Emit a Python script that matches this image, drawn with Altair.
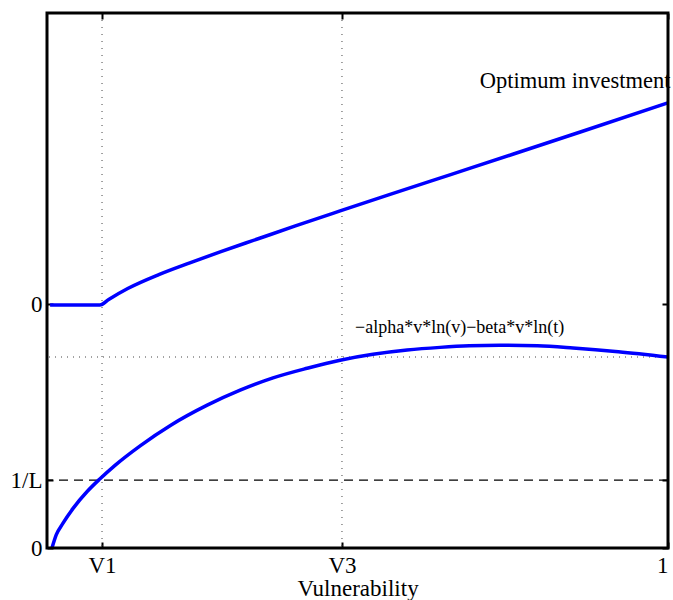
import altair as alt
import pandas as pd

# ---- data (normalised units) ----
opt_v = [0.005, 0.085, 0.10, 0.13, 0.18, 0.23, 0.28, 0.34, 0.40, 0.472, 0.55, 0.65, 0.75, 0.86, 1.0]
opt_y = [0.454, 0.454, 0.465, 0.485, 0.511, 0.533, 0.554, 0.578, 0.602, 0.630, 0.660, 0.698, 0.736, 0.778, 0.832]

fn_v = [0.008, 0.015, 0.025, 0.042, 0.065, 0.085, 0.11, 0.15, 0.20, 0.258, 0.311, 0.364, 0.419, 0.472,
        0.525, 0.58, 0.633, 0.68, 0.729, 0.79, 0.847, 0.92, 1.0]
fn_y = [0.000, 0.025, 0.045, 0.074, 0.106, 0.129, 0.155, 0.191, 0.230, 0.267, 0.295, 0.318, 0.336, 0.351,
        0.362, 0.370, 0.375, 0.378, 0.379, 0.378, 0.374, 0.367, 0.357]

x_tick_vals = [0.0886, 0.475, 1.0]
x_tick_labels = ["V1", "V3", "1"]
y_tick_vals = [0.0, 0.127, 0.456]
y_tick_labels = ["0", "1/L", "0"]
grid_x = [0.0886, 0.475]
dotted_level = [0.357]
inv_L = [0.127]

label_text = ["Optimum investment", "\u2212alpha*v*ln(v)\u2212beta*v*ln(t)"]
label_x = [0.697, 0.496]
label_y = [0.860, 0.402]
label_size = [22.5, 18]

W, H = 621, 535
FONT = "Liberation Serif"

lines = pd.DataFrame({
    "v": opt_v + fn_v,
    "y": opt_y + fn_y,
    "s": ["opt"] * len(opt_v) + ["fn"] * len(fn_v),
})

xs = alt.Scale(domain=[0, 1], nice=False, zero=False)
ys = alt.Scale(domain=[0, 1], nice=False, zero=False)

x_expr = "[" + ",".join("'%s'" % l for l in x_tick_labels) + "][indexof([" + ",".join(format(v, "g") for v in x_tick_vals) + "], datum.value)]"
y_expr = "[" + ",".join("'%s'" % l for l in y_tick_labels) + "][indexof([" + ",".join(format(v, "g") for v in y_tick_vals) + "], datum.value)]"

tick_common = dict(tickSize=6, tickWidth=2, tickColor="black", domain=False, grid=False, offset=-6)

line_layer = alt.Chart(lines).mark_line(strokeWidth=3.5, color="#0000ff", interpolate="monotone").encode(
    x=alt.X("v:Q", scale=xs, axis=alt.Axis(
        values=x_tick_vals, labelExpr=x_expr, title="Vulnerability",
        labelFont=FONT, labelFontSize=23, labelColor="black", labelPadding=6,
        titleFont=FONT, titleFontSize=23, titleFontWeight="normal", titleColor="black",
        titlePadding=0, **tick_common)),
    y=alt.Y("y:Q", scale=ys, axis=alt.Axis(
        values=y_tick_vals, labelExpr=y_expr, title=None,
        labelFont=FONT, labelFontSize=23, labelColor="black", labelPadding=5,
        **tick_common)),
    detail="s:N",
)

vgrid = alt.Chart(pd.DataFrame({"v": grid_x})).mark_rule(
    color="#444444", strokeWidth=1, strokeDash=[1, 6]
).encode(
    x=alt.X("v:Q", scale=xs, axis=alt.Axis(orient="top", values=x_tick_vals, labels=False, title=None, **tick_common)),
)

hdot = alt.Chart(pd.DataFrame({"y": dotted_level})).mark_rule(
    color="#444444", strokeWidth=1, strokeDash=[1, 5]
).encode(
    y=alt.Y("y:Q", scale=ys, axis=alt.Axis(orient="right", values=y_tick_vals, labels=False, title=None, **tick_common)),
)

hdash = alt.Chart(pd.DataFrame({"y": inv_L})).mark_rule(
    color="black", strokeWidth=1.3, strokeDash=[9, 6]
).encode(
    y=alt.Y("y:Q", scale=ys, axis=None),
)

texts = alt.Chart(pd.DataFrame({"t": label_text, "x": label_x, "y": label_y, "fs": label_size})).mark_text(
    font=FONT, color="black", align="left", baseline="alphabetic"
).encode(
    x=alt.X("x:Q", scale=xs, axis=None),
    y=alt.Y("y:Q", scale=ys, axis=None),
    text="t:N",
    size=alt.Size("fs:Q", scale=None, legend=None),
)

frame = alt.Chart(pd.DataFrame({"f": [0]})).mark_rect(
    fill=None, fillOpacity=0, stroke="black", strokeWidth=3
).encode(
    x=alt.value(0), x2=alt.value(W), y=alt.value(0), y2=alt.value(H),
)

chart = alt.layer(hdash, hdot, vgrid, line_layer, texts, frame).resolve_axis(
    x="independent", y="independent"
).properties(
    width=W, height=H,
    padding={"left": 47, "top": 13, "right": 5, "bottom": 52},
    autosize=alt.AutoSizeParams(type="none"),
    background="white",
).configure_view(stroke=None)

chart.save("out.html", embed_options={"renderer": "svg", "actions": False})
